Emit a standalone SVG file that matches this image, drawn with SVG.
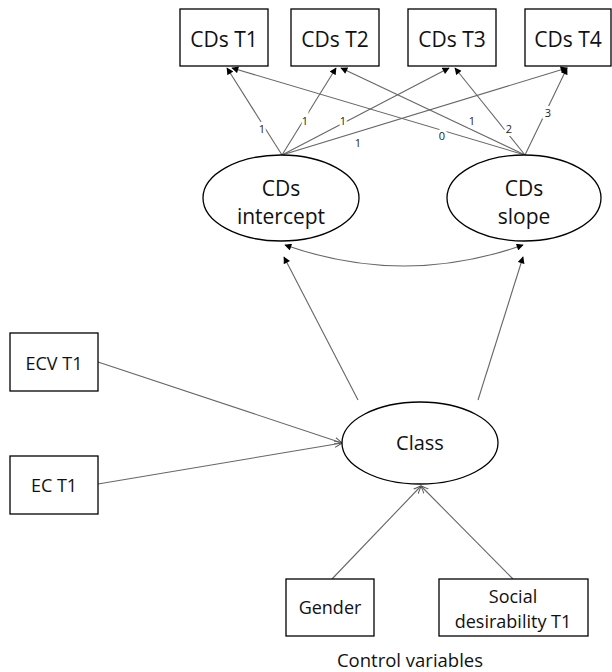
<svg xmlns="http://www.w3.org/2000/svg" width="612" height="672" viewBox="0 0 612 672">
<defs>
<marker id="fa" viewBox="0 0 10 10" refX="9" refY="5" markerWidth="8" markerHeight="7" markerUnits="userSpaceOnUse" orient="auto-start-reverse">
<path d="M0,0 L10,5 L0,10 z" fill="#000"/>
</marker>
<marker id="oa" viewBox="0 0 10 10" refX="9.5" refY="5" markerWidth="8" markerHeight="8" markerUnits="userSpaceOnUse" orient="auto">
<path d="M0,1 L10,5 L0,9" fill="none" stroke="#555" stroke-width="1.2"/>
</marker>
</defs>
<style>
.box{fill:#fff;stroke:#000;stroke-width:1.3}
.ell{fill:#fff;stroke:#000;stroke-width:1.3}
.t{font-family:"Open Sans","Liberation Sans",sans-serif;font-size:21px;fill:#111;text-anchor:middle}
.s{font-size:18px}
.m{font-size:20px}
.c{fill:none;stroke:#666;stroke-width:1.1}
.f{marker-end:url(#fa)}
.o{marker-end:url(#oa)}
.lb{font-family:"Open Sans","Liberation Sans",sans-serif;font-size:11px;fill:#222;text-anchor:middle;stroke:#fff;stroke-width:6;paint-order:stroke}
.cv{font-family:"Open Sans","Liberation Sans",sans-serif;font-size:18.5px;fill:#111;text-anchor:middle}
</style>
<rect width="612" height="672" fill="#fff"/>
<g id="connectors">
<line class="c f" x1="282" y1="155" x2="227" y2="68"/>
<line class="c f" x1="282" y1="155" x2="336" y2="68"/>
<line class="c f" x1="282" y1="155" x2="449" y2="68"/>
<line class="c f" x1="282" y1="155" x2="567" y2="68"/>
<line class="c f" x1="525" y1="155" x2="232" y2="68"/>
<line class="c f" x1="525" y1="155" x2="341" y2="68"/>
<line class="c f" x1="525" y1="155" x2="455" y2="68"/>
<line class="c f" x1="525" y1="155" x2="567" y2="68"/>
<path class="c" d="M285,245 Q404,287 523,245" marker-start="url(#fa)" marker-end="url(#fa)"/>
<line class="c f" x1="358" y1="400" x2="284" y2="257"/>
<line class="c f" x1="478" y1="400" x2="523" y2="257"/>
<line class="c o" x1="98" y1="362" x2="342" y2="443"/>
<line class="c o" x1="98" y1="484" x2="342" y2="443"/>
<line class="c o" x1="332" y1="579" x2="421" y2="486"/>
<line class="c o" x1="513" y1="579" x2="421" y2="486"/>
<text class="lb" x="262" y="133">1</text>
<text class="lb" x="305" y="125">1</text>
<text class="lb" x="343" y="125">1</text>
<text class="lb" x="358" y="147">1</text>
<text class="lb" x="442" y="140">0</text>
<text class="lb" x="472" y="125">1</text>
<text class="lb" x="509" y="133">2</text>
<text class="lb" x="548" y="117">3</text>
</g>
<g id="cds_t1"><rect class="box" x="180" y="9" width="88" height="57"/><text class="t" x="224" y="46.5">CDs T1</text></g>
<g id="cds_t2"><rect class="box" x="291" y="9" width="88" height="57"/><text class="t" x="335" y="46.5">CDs T2</text></g>
<g id="cds_t3"><rect class="box" x="408" y="9" width="88" height="57"/><text class="t" x="452" y="46.5">CDs T3</text></g>
<g id="cds_t4"><rect class="box" x="525" y="9" width="86" height="57"/><text class="t" x="568" y="46.5">CDs T4</text></g>
<g id="intercept"><ellipse class="ell" cx="281" cy="198" rx="78" ry="43"/><text class="t" x="281" y="195.5">CDs</text><text class="t" x="281" y="223.5">intercept</text></g>
<g id="slope"><ellipse class="ell" cx="524" cy="198" rx="77" ry="43"/><text class="t" x="524" y="195.5">CDs</text><text class="t" x="524" y="223.5">slope</text></g>
<g id="class"><ellipse class="ell" cx="420" cy="443" rx="78" ry="41"/><text class="t m" x="420" y="450">Class</text></g>
<g id="ecv_t1"><rect class="box" x="10" y="333" width="88" height="58"/><text class="t s" x="54" y="369.5">ECV T1</text></g>
<g id="ec_t1"><rect class="box" x="10" y="456" width="88" height="58"/><text class="t s" x="54" y="491.5">EC T1</text></g>
<g id="gender"><rect class="box" x="286" y="579" width="88" height="57"/><text class="t s" x="330" y="614">Gender</text></g>
<g id="social"><rect class="box" x="439" y="579" width="149" height="57"/><text class="t s" x="513" y="602.5">Social</text><text class="t s" x="513" y="628">desirability T1</text></g>
<text class="cv" x="410" y="667">Control variables</text>
</svg>
